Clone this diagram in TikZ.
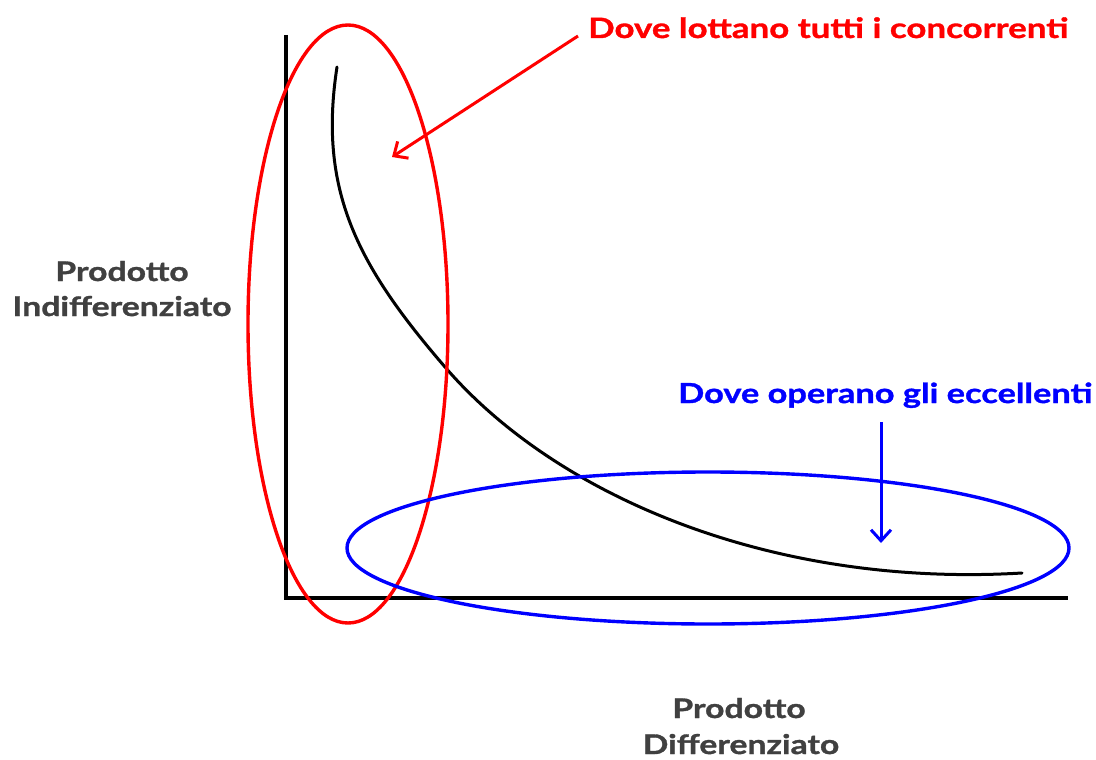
\documentclass[tikz,border=0pt]{standalone}
\usepackage{fontspec}
\setmainfont{Lato}
\newfontfamily\gillish[FakeStretch=1.25, BoldFeatures={FakeBold=1.2}]{Lato}
\usetikzlibrary{arrows.meta}
\definecolor{labgray}{HTML}{404040}
\definecolor{myred}{HTML}{FF0000}
\definecolor{myblue}{HTML}{0000FF}
\tikzset{
  axis/.style={line width=3.2pt, black},
  curveline/.style={line width=3pt, black},
  redring/.style={line width=3.4pt, myred},
  bluering/.style={line width=3.4pt, myblue},
  lab/.style={font=\gillish\fontsize{27}{35}\selectfont\bfseries, text=labgray, inner sep=0pt, anchor=base},
  redlab/.style={font=\gillish\fontsize{27.9}{32}\selectfont\bfseries, text=myred, inner sep=0pt, anchor=base west},
  bluelab/.style={font=\gillish\fontsize{27.5}{32}\selectfont\bfseries, text=myblue, inner sep=0pt, anchor=base west},
  redarrow/.style={line width=3pt, myred, -{Straight Barb[length=11pt,width=20pt,line width=3pt]}},
  bluearrow/.style={line width=3pt, myblue, -{Straight Barb[length=11pt,width=20pt,line width=3pt]}},
}
\begin{document}
\begin{tikzpicture}[x=1pt,y=-1pt]
\useasboundingbox (0,0) rectangle (1096,760);
% axes
\coordinate (O) at (286,598);
\coordinate (ytop) at (286,35);
\coordinate (xend) at (1068,598);
\draw[axis] (ytop) -- (O) -- (xend);
% curve
\coordinate (c0) at (337,67);
\coordinate (cm) at (445,367);
\coordinate (c9) at (1022,573);
\draw[curveline, line cap=round] (c0) .. controls (318,190) and (357,265) .. (cm)
  .. controls (555,495) and (770,588) .. (c9);
% ellipses
\draw[redring] (348,324) ellipse [x radius=100, y radius=299];
\draw[bluering] (708,548) ellipse [x radius=361, y radius=76];
% labels
\node[redlab] (redtxt) at (588,38) {Dove lottano tutti i concorrenti};
\node[bluelab] (bluetxt) at (678,403) {Dove operano gli eccellenti};
\node[lab] (ylab1) at (122,281) {Prodotto};
\node[lab] (ylab2) at (122,316) {Indifferenziato};
\node[lab] (xlab1) at (739,718) {Prodotto};
\node[lab] (xlab2) at (741,754) {Differenziato};
% arrows
\coordinate (ra1) at (578,36);
\coordinate (ra2) at (392,157);
\coordinate (ba1) at (881,422);
\coordinate (ba2) at (881,543);
\draw[redarrow] (ra1) -- (ra2);
\draw[bluearrow] (ba1) -- (ba2);
\end{tikzpicture}
\end{document}
